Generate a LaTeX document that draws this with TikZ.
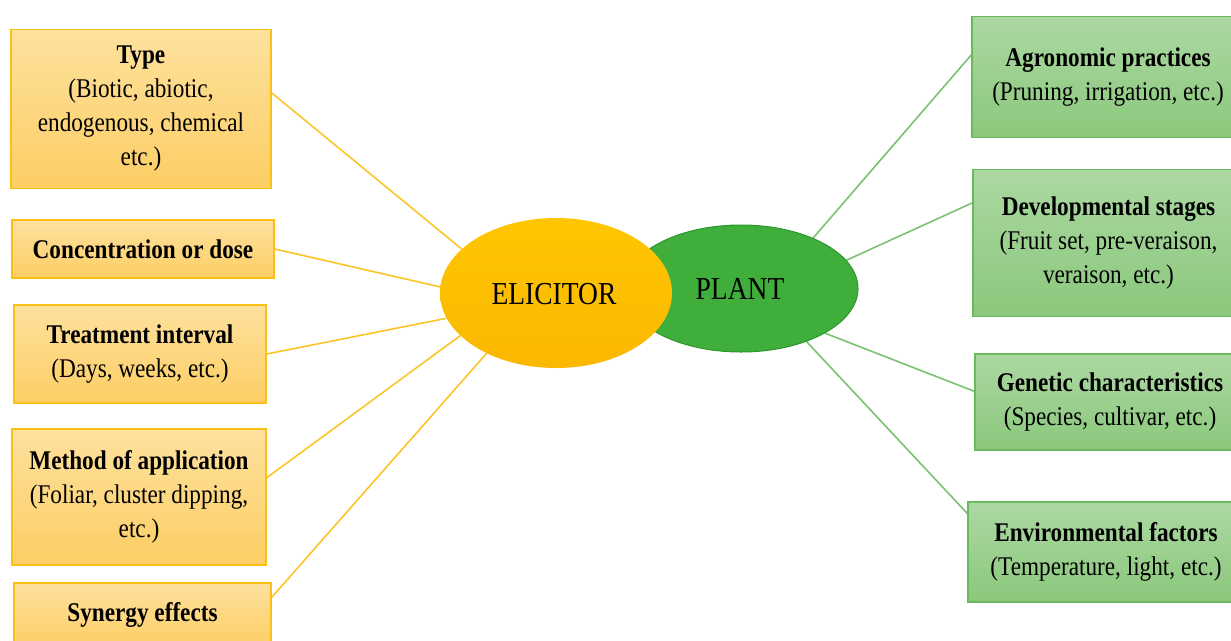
\documentclass[tikz,border=0pt]{standalone}
\usepackage{fontspec}
\setmainfont[FakeStretch=0.86]{Liberation Serif}
\usetikzlibrary{calc,shapes.geometric}
\pgfdeclarelayer{bg}
\pgfsetlayers{bg,main}

\definecolor{orBorder}{RGB}{252,192,20}
\definecolor{orTop}{RGB}{254,225,158}
\definecolor{orBot}{RGB}{252,206,100}
\definecolor{grBorder}{RGB}{104,186,92}
\definecolor{grTop}{RGB}{172,216,162}
\definecolor{grBot}{RGB}{138,200,124}
\definecolor{eliTop}{RGB}{255,198,0}
\definecolor{eliBot}{RGB}{250,184,0}
\definecolor{plantFill}{RGB}{64,174,58}
\definecolor{plantBorder}{RGB}{44,150,44}
\definecolor{orLine}{RGB}{253,196,40}
\definecolor{grLine}{RGB}{122,194,112}

\tikzset{
  txt/.style={font=\fontsize{27}{34}\selectfont, align=center, inner sep=0pt},
  obox/.style={txt, draw=orBorder, line width=1.5pt, top color=orTop, bottom color=orBot},
  gbox/.style={txt, draw=grBorder, line width=1.5pt, top color=grTop, bottom color=grBot},
  oline/.style={draw=orLine, line width=1.6pt},
  gline/.style={draw=grLine, line width=1.6pt},
  hub/.style={ellipse, inner sep=0pt}
}

\begin{document}
\begin{tikzpicture}[x=1pt,y=-1pt]
\useasboundingbox (0,0) rectangle (1231,640);
\clip (0,0) rectangle (1231,640);

% elicitor factors
\node[obox, minimum width=260, minimum height=159] (type) at (141,109)
  {\textbf{Type}\\(Biotic, abiotic,\\endogenous, chemical\\etc.)};
\node[obox, minimum width=262, minimum height=58] (conc) at (143,249)
  {\textbf{Concentration or dose}};
\node[obox, minimum width=252, minimum height=98] (treat) at (140,354)
  {\textbf{Treatment interval}\\(Days, weeks, etc.)};
\node[obox, minimum width=254, minimum height=136] (meth) at (139,497)
  {\textbf{Method of application}\\(Foliar, cluster dipping,\\etc.)};
\node[obox, minimum width=257, minimum height=64] (syn) at (142.5,615)
  {\textbf{Synergy effects}};

% plant factors
\node[gbox, minimum width=272, minimum height=121] (agro) at (1108,77)
  {\textbf{Agronomic practices}\\(Pruning, irrigation, etc.)};
\node[gbox, minimum width=271, minimum height=147] (dev) at (1108.5,243)
  {\textbf{Developmental stages}\\(Fruit set, pre-veraison,\\veraison, etc.)};
\node[gbox, minimum width=270, minimum height=96] (gen) at (1110,402)
  {\textbf{Genetic characteristics}\\(Species, cultivar, etc.)};
\node[gbox, minimum width=276, minimum height=100] (env) at (1106,552)
  {\textbf{Environmental factors}\\(Temperature, light, etc.)};

% central hubs
\node[hub, minimum width=234, minimum height=127, fill=plantFill, draw=plantBorder, line width=1pt] (plant) at (741,288.5) {};
\node[font=\fontsize{32}{36}\selectfont] (plantlbl) at (740,289) {PLANT};
\node[hub, minimum width=232, minimum height=150, top color=eliTop, bottom color=eliBot] (eli) at (556,293) {};
\node[font=\fontsize{32}{36}\selectfont] (elilbl) at (554,294) {ELICITOR};

% connectors
\begin{pgfonlayer}{bg}
\draw[oline] ($(type.north east)!0.40!(type.south east)$) -- (eli.155);
\draw[oline] (conc.east) -- (eli.177);
\draw[oline] (treat.east) -- (eli.193);
\draw[oline] ($(meth.north east)!0.36!(meth.south east)$) -- (eli.204);
\draw[oline] ($(syn.north east)!0.23!(syn.south east)$) -- (eli.221);
\draw[gline] ($(agro.north west)!0.32!(agro.south west)$) -- (plant.35);
\draw[gline] ($(dev.north west)!0.23!(dev.south west)$) -- (plant.15);
\draw[gline] ($(gen.north west)!0.39!(gen.south west)$) -- (plant.-28);
\draw[gline] ($(env.north west)!0.12!(env.south west)$) -- (plant.-39);
\end{pgfonlayer}
\end{tikzpicture}
\end{document}
